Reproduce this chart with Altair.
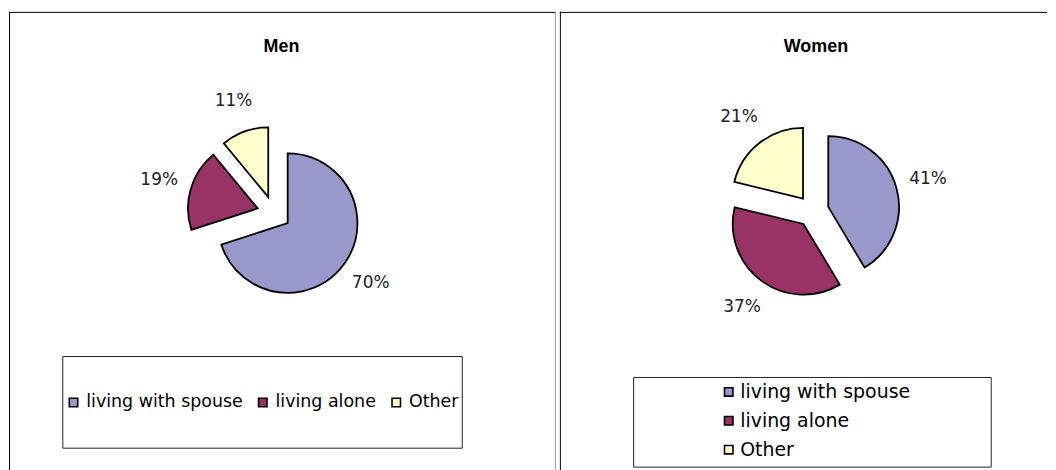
import altair as alt
import pandas as pd

categories = ["living with spouse", "living alone", "Other"]
men_values = [70, 19, 11]
women_values = [41, 37, 21]
colors = ["#9898CA", "#993366", "#FFFFCC"]
titles = ["Men", "Women"]


def panel(title, values, w, h, cx, cy, r, d, rl, title_x, box, legend_kw, right_border):
    df = pd.DataFrame({"category": categories, "value": values, "order": list(range(len(categories)))})
    one = pd.DataFrame({"title": [title]})

    base = (
        alt.Chart(df)
        .transform_joinaggregate(total="sum(value)")
        .transform_window(cum="sum(value)", sort=[alt.SortField("order")], frame=[None, 0])
        .transform_calculate(
            t0="2*PI*(datum.cum - datum.value)/datum.total",
            t1="2*PI*datum.cum/datum.total",
        )
        .transform_calculate(mid="(datum.t0 + datum.t1)/2")
        .transform_calculate(
            px=f"{cx} + {d}*sin(datum.mid)",
            py=f"{cy} - {d}*cos(datum.mid)",
            lx=f"{cx} + {rl}*sin(datum.mid)",
            ly=f"{cy} - {rl}*cos(datum.mid)",
            label="datum.value + '%'",
        )
    )

    arcs = base.mark_arc(radius=r, stroke="black", strokeWidth=1.8).encode(
        x=alt.X("px:Q", scale=None),
        y=alt.Y("py:Q", scale=None),
        theta=alt.Theta("t0:Q", scale=None, stack=None),
        theta2="t1:Q",
        color=alt.Color(
            "category:N",
            scale=alt.Scale(domain=categories, range=colors),
            legend=alt.Legend(
                orient="none",
                title=None,
                symbolType="square",
                symbolSize=72,
                symbolStrokeColor="black",
                symbolStrokeWidth=1.6,
                symbolOpacity=1,
                labelFont="DejaVu Sans",
                labelColor="black",
                labelLimit=500,
                padding=0,
                **legend_kw,
            ),
        ),
    )

    labels = base.mark_text(font="DejaVu Sans", fontSize=17, color="#222222").encode(
        x=alt.X("lx:Q", scale=None),
        y=alt.Y("ly:Q", scale=None),
        text="label:N",
    )

    ttl = alt.Chart(one).mark_text(
        font="Liberation Sans", fontSize=18, fontWeight="bold", color="black"
    ).encode(x=alt.value(title_x), y=alt.value(35), text="title:N")

    legend_box = alt.Chart(one).mark_rect(
        fill="white", stroke="#222222", strokeWidth=1
    ).encode(
        x=alt.value(box[0]), x2=alt.value(box[2]), y=alt.value(box[1]), y2=alt.value(box[3])
    )

    left_rule = alt.Chart(one).mark_rule(color="black", strokeWidth=1).encode(
        x=alt.value(0.5), y=alt.value(0), y2=alt.value(h)
    )
    top_rule = alt.Chart(one).mark_rule(color="black", strokeWidth=1).encode(
        x=alt.value(0), x2=alt.value(w), y=alt.value(0.5)
    )
    layers = [left_rule, top_rule]
    if right_border:
        layers.append(
            alt.Chart(one).mark_rule(color="#999999", strokeWidth=1).encode(
                x=alt.value(w - 0.5), y=alt.value(0), y2=alt.value(h)
            )
        )
    layers += [legend_box, arcs, labels, ttl]
    return alt.layer(*layers).properties(width=w, height=h)


men = panel(
    titles[0], men_values, 549, 460, 266, 202, 70, 17, 120, 273.5,
    (54, 346, 455, 438),
    dict(legendX=56, legendY=383, direction="horizontal", labelFontSize=17.5,
         labelOffset=4, columnPadding=11),
    True,
)
women = panel(
    titles[1], women_values, 489, 460, 254, 200, 71, 16, 120, 257,
    (74, 367, 433, 457),
    dict(legendX=160, legendY=372, direction="vertical", labelFontSize=19,
         labelOffset=2, rowPadding=9),
    False,
)

chart = (
    alt.hconcat(men, women, spacing=2)
    .resolve_scale(color="independent")
    .resolve_legend(color="independent")
    .properties(padding={"left": 0, "top": 2, "right": 0, "bottom": 0})
    .configure_view(stroke=None)
)

chart.save("out.html", embed_options={"renderer": "svg", "actions": False})
